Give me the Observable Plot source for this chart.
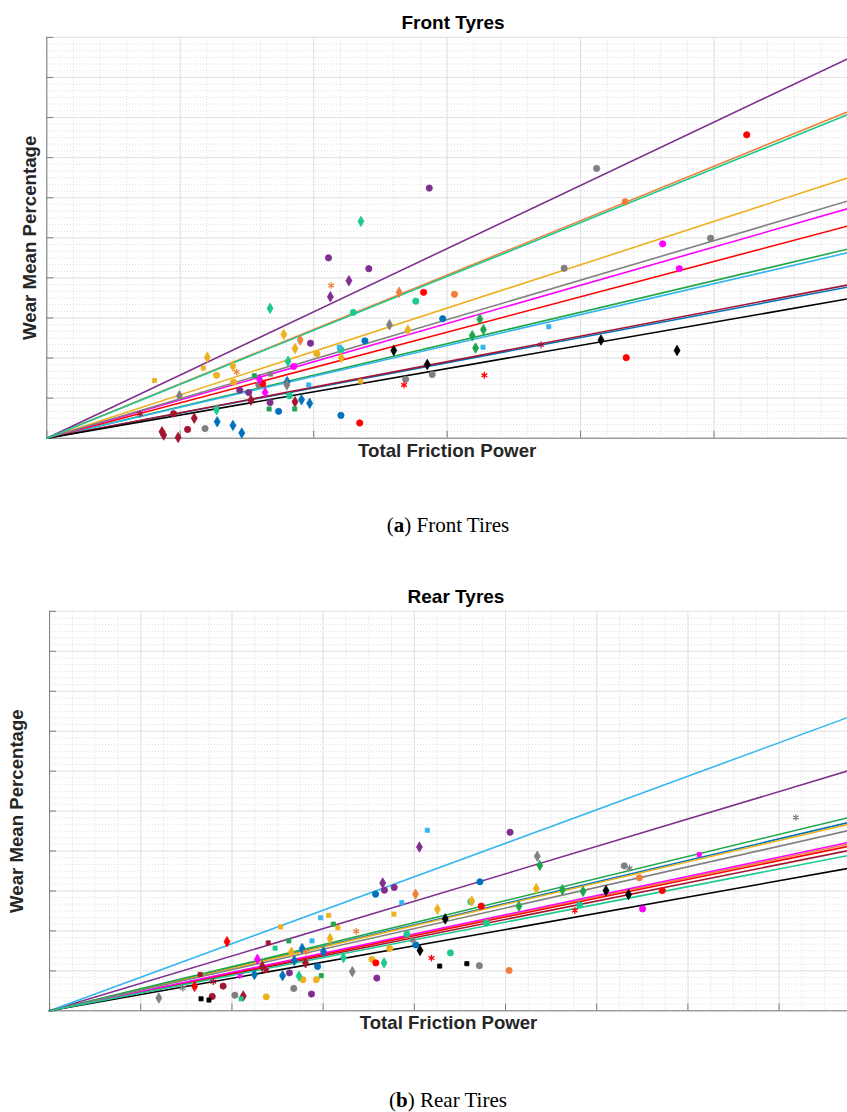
<!DOCTYPE html>
<html><head><meta charset="utf-8">
<script src="https://cdn.jsdelivr.net/npm/d3@7"></script>
<script src="https://cdn.jsdelivr.net/npm/@observablehq/plot@0.6"></script>
<style>
html,body{margin:0;padding:0;background:#fff;overflow:hidden;width:847px;height:1112px;position:relative;}
.abs{position:absolute;white-space:nowrap;}
.title{font-family:"Liberation Sans",Arial,sans-serif;font-weight:bold;font-size:19px;line-height:19px;color:#000;transform:translateX(-50%);}
.cap{font-family:"Liberation Serif","Times New Roman",serif;font-size:21px;line-height:21px;color:#000;transform:translateX(-50%);}
</style></head><body>
<div id="front" class="abs" style="left:0;top:30px"></div>
<div id="rear" class="abs" style="left:0;top:604px"></div>
<div class="abs title" style="left:453px;top:13px">Front Tyres</div>
<div class="abs cap" style="left:448px;top:515px">(<b>a</b>) Front Tires</div>
<div class="abs title" style="left:456px;top:587px">Rear Tyres</div>
<div class="abs cap" style="left:448px;top:1090px">(<b>b</b>) Rear Tires</div>
<script>
// ---- series (one colour per tyre set) ----
const seriesNames  = ["blue","orange","yellow","purple","green","lightblue","darkred","red","magenta","black","gray","teal"];
const seriesColors = ["#0072BD","#EF7F3A","#EDB120","#7E2F8E","#1FA64A","#35B6EE","#A2142F","#FF0000","#FF00FF","#000000","#808080","#1DC98F"];

// fitted slopes (line through origin) per series
const frontSlopes = [0.628, 1.357, 1.082, 1.577, 0.786, 0.771, 0.637, 0.882, 0.954, 0.579, 0.986, 1.345];
const rearSlopes  = [0.538, 0.476, 0.533, 0.686, 0.552, 0.839, 0.458, 0.470, 0.481, 0.407, 0.515, 0.444];

// axis extents and tick values (no tick labels in the original)
const frontXMax = 6, rearXMax = 8.75, yMax = 10;
const frontXMajor = d3.range(0, 6.001, 1);
const frontXMinor = d3.range(0, 6.001, 0.2);
const rearXMajor  = d3.range(0, 8.751, 1);
const rearXMinor  = d3.range(0, 8.751, 0.25);
const yMajor = d3.range(0, 10.001, 1);
const yMinor = d3.range(0, 10.001, 1/6);

// measurements: [series, marker, friction power, wear]
const frontPoints = [
["purple","o",2.866,6.24],["teal","d",2.354,5.41],["purple","o",2.111,4.50],["purple","o",2.413,4.23],
["orange","*",2.131,3.81],["purple","d",2.264,3.93],["purple","d",2.125,3.53],["orange","d",2.640,3.64],
["red","o",2.824,3.64],["orange","o",3.055,3.59],["teal","o",2.765,3.42],["teal","o",2.297,3.14],
["teal","d",1.673,3.24],["blue","o",2.967,2.98],["green","d",3.245,2.97],["green","d",3.272,2.71],
["green","d",3.188,2.56],["green","d",3.213,2.25],["lightblue","s",3.269,2.27],["gray","d",2.568,2.83],
["yellow","d",2.706,2.70],["yellow","d",1.776,2.59],["orange","d",1.899,2.45],["purple","o",1.976,2.37],
["blue","o",2.384,2.43],["yellow","d",1.860,2.24],["yellow","o",2.024,2.11],["lightblue","s",2.192,2.27],
["teal","o",2.204,2.21],["yellow","d",2.207,2.01],["black","d",2.600,2.19],["yellow","d",1.203,2.02],
["yellow","s",1.173,1.75],["yellow","d",1.395,1.80],["orange","*",1.422,1.65],["yellow","o",1.272,1.57],
["yellow","s",0.807,1.44],["teal","d",1.808,1.92],["magenta","o",1.850,1.79],["green","s",1.555,1.56],
["gray","s",1.677,1.60],["magenta","d",1.594,1.47],["yellow","o",1.400,1.40],["gray","o",1.589,1.33],
["red","o",1.618,1.36],["blue","d",1.801,1.41],["gray","d",1.799,1.33],["lightblue","s",1.963,1.33],
["black","d",2.851,1.84],["gray","o",2.888,1.59],["gray","o",2.689,1.47],["red","*",2.677,1.33],
["yellow","s",2.352,1.42],["red","*",3.279,1.57],["gray","d",0.994,1.06],["purple","o",1.446,1.20],
["purple","o",1.513,1.14],["magenta","d",1.636,1.14],["darkred","d",1.530,0.95],["teal","o",1.818,1.06],
["purple","o",1.673,0.89],["darkred","d",1.860,0.91],["blue","d",1.909,0.96],["blue","d",1.970,0.87],
["green","s",1.666,0.73],["green","s",1.858,0.73],["blue","o",1.737,0.67],["teal","d",1.272,0.71],
["darkred","o",0.950,0.61],["darkred","d",1.105,0.50],["blue","d",1.277,0.41],["blue","d",1.395,0.32],
["blue","d",1.461,0.13],["gray","o",1.186,0.24],["darkred","o",1.055,0.22],["darkred","d",0.863,0.16],
["darkred","d",0.876,0.08],["darkred","d",0.984,0.02],["blue","o",2.204,0.57],["red","o",2.345,0.38],
["darkred","*",0.699,0.61],["gray","o",4.120,6.73],["orange","o",4.334,5.90],["red","o",5.245,7.57],
["magenta","o",4.615,4.85],["gray","o",4.974,4.99],["gray","o",3.877,4.24],["magenta","o",4.740,4.23],
["lightblue","s",3.762,2.78],["black","d",4.153,2.45],["black","d",4.723,2.19],["red","o",4.342,2.01],
["darkred","*",3.703,2.33]
];
const rearPoints = [
["lightblue","s",4.142,4.52],["purple","o",5.050,4.47],["purple","d",4.056,4.10],["gray","d",5.348,3.87],
["green","d",5.376,3.64],["purple","d",3.653,3.20],["purple","o",3.672,3.02],["purple","o",3.779,3.09],
["blue","o",3.575,2.92],["blue","o",4.719,3.23],["orange","d",4.013,2.92],["yellow","d",5.337,3.06],
["lightblue","s",3.862,2.71],["yellow","d",4.630,2.75],["teal","o",4.619,2.73],["red","o",4.734,2.62],
["yellow","d",4.253,2.54],["green","d",5.147,2.62],["yellow","s",3.776,2.42],["black","d",4.339,2.30],
["lightblue","s",2.972,2.33],["yellow","s",3.061,2.39],["green","s",3.112,2.17],["yellow","s",3.162,2.08],
["yellow","s",2.534,2.10],["orange","*",3.363,1.99],["teal","o",4.791,2.20],["darkred","s",2.398,1.70],
["red","d",1.946,1.73],["green","s",2.624,1.75],["lightblue","s",2.878,1.75],["yellow","d",3.076,1.81],
["teal","s",2.473,1.57],["teal","o",3.919,1.92],["gray","s",3.984,1.77],["blue","d",2.770,1.56],
["yellow","d",2.652,1.47],["blue","d",3.004,1.48],["orange","*",2.810,1.47],["yellow","o",3.729,1.56],
["blue","o",4.016,1.65],["black","d",4.062,1.51],["red","*",4.188,1.32],["teal","o",4.396,1.45],
["teal","d",3.223,1.33],["magenta","d",2.279,1.29],["blue","d",2.684,1.26],["darkred","d",2.807,1.20],
["blue","o",2.939,1.11],["yellow","o",3.535,1.29],["red","o",3.578,1.20],["teal","d",3.668,1.20],
["black","s",4.278,1.12],["black","s",4.576,1.18],["gray","o",4.713,1.13],["orange","o",5.039,1.01],
["gray","d",3.320,0.98],["darkred","d",2.333,1.11],["darkred","s",2.376,1.01],["blue","d",2.247,0.91],
["purple","o",2.630,0.95],["blue","d",2.555,0.88],["teal","d",2.735,0.87],["yellow","o",2.778,0.78],
["yellow","o",2.925,0.78],["green","s",2.979,0.88],["purple","o",3.589,0.82],["gray","o",2.678,0.56],
["purple","o",2.872,0.42],["yellow","o",2.376,0.35],["gray","o",2.032,0.39],["darkred","d",2.124,0.37],
["teal","s",2.100,0.30],["darkred","o",1.784,0.36],["black","s",1.661,0.30],["black","s",1.748,0.27],
["darkred","o",1.903,0.62],["red","d",1.590,0.61],["gray","d",1.198,0.32],["darkred","s",1.651,0.91],
["darkred","*",1.795,0.73],["gray","*",1.461,0.57],["magenta","*",2.086,0.88],
["gray","*",8.183,4.84],["gray","o",6.302,3.63],["gray","*",6.360,3.57],["magenta","s",7.125,3.91],
["orange","o",6.468,3.33],["green","d",5.624,3.03],["green","d",5.850,2.99],["black","d",6.102,3.01],
["black","d",6.349,2.91],["red","o",6.719,3.01],["teal","o",5.814,2.65],["red","*",5.760,2.51],
["magenta","o",6.503,2.55]
];

const FONT = "'Liberation Sans', Arial, Helvetica, sans-serif";
const AXIS = "#7a7a7a";
const symbolOf = {o:"circle", d:"diamond", s:"square", "*":"asterisk"};
const radiusOf = {o:3.2, d:3.2, s:2.4, "*":3.2};

function makeChart({points, slopes, xMax, xMajor, xMinor, marginLeft, ylabelDx}) {
  const W = Math.round(marginLeft + 813);
  const lineData = seriesNames.flatMap((s, i) => [{s, x: 0, y: 0}, {s, x: xMax, y: xMax * slopes[i]}]);
  const dotMarks = Object.keys(symbolOf).map(m => Plot.dot(points.filter(p => p[1] === m), {
    x: p => p[2], y: p => p[3], symbol: symbolOf[m], r: radiusOf[m],
    fill: m === "*" ? "none" : {value: p => p[0], scale: "color"},
    stroke: {value: p => p[0], scale: "color"},
    strokeWidth: m === "*" ? 1.3 : 0.8
  }));
  return Plot.plot({
    width: W, height: 454,
    marginLeft, marginRight: 0, marginTop: 7, marginBottom: 40,
    style: {fontFamily: FONT, background: "transparent", overflow: "visible"},
    x: {domain: [0, xMax]},
    y: {domain: [0, yMax]},
    color: {type: "ordinal", domain: seriesNames, range: seriesColors},
    marks: [
      Plot.ruleX(xMinor, {stroke: "#d4d4d4", strokeDasharray: "1,2", strokeWidth: 0.8}),
      Plot.ruleY(yMinor, {stroke: "#d4d4d4", strokeDasharray: "1,2", strokeWidth: 0.8}),
      Plot.ruleX(xMajor, {stroke: "#e2e2e2", strokeWidth: 1}),
      Plot.ruleY(yMajor, {stroke: "#e2e2e2", strokeWidth: 1}),
      Plot.ruleX([0], {stroke: AXIS}),
      Plot.ruleY([0], {stroke: AXIS}),
      Plot.axisY({ticks: yMajor, tickSize: 7, dx: 7, tickFormat: () => "", label: null, color: AXIS}),
      Plot.axisX({ticks: xMajor, tickSize: 7, dy: -7, tickFormat: () => "", label: null, color: AXIS}),
      Plot.line(lineData, {x: "x", y: "y", z: "s", stroke: {value: "s", scale: "color"}, strokeWidth: 1.6}),
      ...dotMarks,
      Plot.text(["Total Friction Power"], {text: d => d, frameAnchor: "bottom", dy: 19, fontSize: 19, fontWeight: "bold", fill: "#262626"}),
      Plot.text(["Wear Mean Percentage"], {text: d => d, frameAnchor: "left", textAnchor: "middle", dx: ylabelDx, rotate: -90, fontSize: 19, fontWeight: "bold", fill: "#262626"})
    ]
  });
}

document.getElementById("front").append(makeChart({
  points: frontPoints, slopes: frontSlopes, xMax: frontXMax,
  xMajor: frontXMajor, xMinor: frontXMinor, marginLeft: 47, ylabelDx: -17
}));
document.getElementById("rear").append(makeChart({
  points: rearPoints, slopes: rearSlopes, xMax: rearXMax,
  xMajor: rearXMajor, xMinor: rearXMinor, marginLeft: 50, ylabelDx: -33
}));
</script>
</body></html>
